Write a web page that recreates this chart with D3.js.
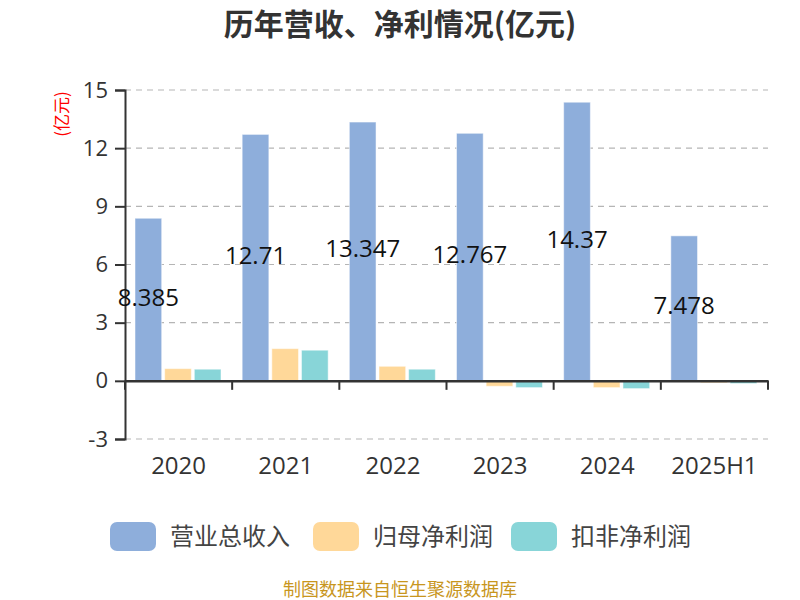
<!DOCTYPE html>
<html><head><meta charset="utf-8">
<script src="https://cdn.jsdelivr.net/npm/d3@7"></script>
<style>body{margin:0;background:#fff}svg{display:block;font-family:"Open Sans","Noto Sans CJK SC",sans-serif}</style>
</head><body><svg id="c" width="800" height="600"></svg>
<script>
const categories = ["2020","2021","2022","2023","2024","2025H1"];
const seriesNames = ["营业总收入","归母净利润","扣非净利润"];
const revenue = [8.385, 12.71, 13.347, 12.767, 14.37, 7.478];
const netProfit = [0.63, 1.66, 0.75, -0.28, -0.35, -0.10];
const deductedProfit = [0.60, 1.58, 0.60, -0.35, -0.40, -0.14];
const revenueLabels = ["8.385","12.71","13.347","12.767","14.37","7.478"];
const yTicks = [-3, 0, 3, 6, 9, 12, 15];
const colors = ["#8eaedb", "#ffd899", "#88d5d8"];

(function(){
const series = [revenue, netProfit, deductedProfit];
const svg = d3.select("#c");
const pLeft = 125, pRight = 768, pTop = 90, pBottom = 439;

const x = d3.scaleBand().domain(categories).range([pLeft, pRight]).paddingInner(0).paddingOuter(0);
const xs = d3.scaleBand().domain(d3.range(3)).range([10, 96]).paddingInner(0.1).paddingOuter(0);
const y = d3.scaleLinear().domain([-3, 15]).range([pBottom, pTop]);

svg.append("text").attr("x", 400).attr("y", 35).attr("text-anchor", "middle")
  .attr("font-size", 30).attr("font-weight", "bold").attr("fill", "#333")
  .attr("font-family", "'Noto Sans CJK SC',sans-serif")
  .text("历年营收、净利情况(亿元)");

svg.append("text").attr("transform", "translate(68,114) rotate(-90)").attr("text-anchor", "middle")
  .attr("font-size", 17).attr("fill", "#ff0000").attr("font-family", "'Noto Sans CJK SC',sans-serif").text("(亿元)");

svg.append("g").selectAll("line").data(yTicks).join("line")
  .attr("x1", pLeft).attr("x2", pRight).attr("y1", d => y(d)).attr("y2", d => y(d))
  .attr("stroke", "#b5b5b5").attr("stroke-width", 1.2).attr("stroke-dasharray", "6,5");

const yAxis = svg.append("g").attr("transform", `translate(${pLeft},0)`)
  .call(d3.axisLeft(y).tickValues(yTicks).tickSize(10).tickPadding(7).tickFormat(d => String(d)));
yAxis.select(".domain").attr("stroke", "#333").attr("stroke-width", 2);
yAxis.selectAll(".tick line").attr("stroke", "#333").attr("stroke-width", 2);
yAxis.selectAll(".tick text").attr("font-size", 22).attr("fill", "#333").attr("font-family", "'Open Sans',sans-serif");

const g = svg.append("g");
series.forEach((vals, si) => {
  g.selectAll(null).data(vals).join("rect")
    .attr("x", (d, i) => x(categories[i]) + xs(si))
    .attr("width", xs.bandwidth())
    .attr("y", d => y(Math.max(0, d)))
    .attr("height", d => Math.abs(y(d) - y(0)))
    .attr("fill", colors[si]).attr("stroke", "#fff").attr("stroke-opacity", 0.5).attr("stroke-width", 1);
});

const xAxis = svg.append("g").attr("transform", `translate(0,${y(0)})`)
  .call(d3.axisBottom(x).tickSize(0).tickFormat(""));
xAxis.select(".domain").attr("stroke", "#333").attr("stroke-width", 2.5);
xAxis.selectAll(".tick").remove();
svg.append("g").selectAll("line").data(categories.concat(["_end"])).join("line")
  .attr("x1", (d, i) => i < categories.length ? x(d) : pRight)
  .attr("x2", (d, i) => i < categories.length ? x(d) : pRight)
  .attr("y1", y(0)).attr("y2", y(0) + 9).attr("stroke", "#333").attr("stroke-width", 2);

svg.append("g").selectAll("text").data(categories).join("text")
  .attr("x", d => x(d) + x.bandwidth() / 2).attr("y", 474).attr("text-anchor", "middle")
  .attr("font-size", 24).attr("fill", "#333").text(d => d);

svg.append("g").selectAll("text").data(revenue).join("text")
  .attr("x", (d, i) => x(categories[i]) + xs(0) + xs.bandwidth() / 2)
  .attr("y", d => (y(d) + y(0)) / 2 + 6).attr("text-anchor", "middle")
  .attr("font-size", 24).attr("fill", "#111").text((d, i) => revenueLabels[i]);

const legendX = [110, 313, 511];
const lg = svg.append("g");
seriesNames.forEach((n, i) => {
  lg.append("rect").attr("x", legendX[i]).attr("y", 522).attr("width", 46).attr("height", 29)
    .attr("rx", 7).attr("fill", colors[i]);
  lg.append("text").attr("x", legendX[i] + 60).attr("y", 545).attr("font-size", 24)
    .attr("fill", "#444").attr("font-family", "'Noto Sans CJK SC',sans-serif").text(n);
});

svg.append("text").attr("x", 400).attr("y", 596).attr("text-anchor", "middle")
  .attr("font-size", 18).attr("fill", "#c8961e").attr("font-family", "'Noto Sans CJK SC',sans-serif")
  .text("制图数据来自恒生聚源数据库");
})();
</script></body></html>
